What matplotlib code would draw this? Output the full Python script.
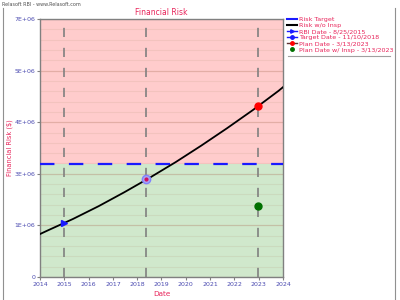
import matplotlib
matplotlib.use("Agg")
import matplotlib.pyplot as plt
import numpy as np
from matplotlib.lines import Line2D
from matplotlib.ticker import FixedLocator, MultipleLocator


def to_year(s):
    """'YYYY-MM-DD' -> decimal year"""
    y, m, d = (int(v) for v in s.split("-"))
    days = np.cumsum([0, 31, 28, 31, 30, 31, 30, 31, 31, 30, 31, 30])
    return y + (days[m - 1] + d - 1) / 365.0


# curve: risk without inspection
curve_dates = ["2014-09-20", "2015-01-01", "2016-01-01", "2017-01-01", "2018-01-01",
               "2019-01-01", "2020-01-01", "2021-01-01", "2022-01-01", "2023-01-01",
               "2024-01-01", "2024-03-07"]
curve_risk = [1.14e6, 1.23e6, 1.54e6, 1.88e6, 2.25e6, 2.64e6, 3.05e6, 3.49e6,
              3.95e6, 4.43e6, 4.94e6, 5.04e6]

risk_target = 3.0e6

rbi_date, rbi_risk = "2015-08-25", 1.43e6
target_date, target_risk = "2018-11-10", 2.59e6
plan_date, plan_risk = "2023-03-13", 4.55e6
plan_insp_risk = 1.89e6

legend_labels = ["Risk Target", "Risk w/o Insp", "RBI Date - 8/25/2015",
                 "Target Date - 11/10/2018", "Plan Date - 3/13/2023",
                 "Plan Date w/ Insp - 3/13/2023"]

X_MIN, X_MAX = to_year(curve_dates[0]), to_year(curve_dates[-1])
Y_MAX = 6.85e6
RED = "#e8245a"
TICK = "#4a4ab0"

fig = plt.figure(figsize=(4, 3), dpi=100)
ax = fig.add_axes([0.1, 0.0767, 0.6075, 0.86])

# zones
ax.axhspan(risk_target, Y_MAX, color="#ffcccc", zorder=0, lw=0)
ax.axhspan(0, risk_target, color="#d0e8cc", zorder=0, lw=0)

ax.set_xlim(X_MIN, X_MAX)
ax.set_ylim(0, Y_MAX)

yt = np.linspace(0, Y_MAX, 6)
ax.yaxis.set_major_locator(FixedLocator(yt))
ax.set_yticklabels(["0"] + ["%.0E" % v for v in yt[1:]])
ax.yaxis.set_minor_locator(MultipleLocator(Y_MAX / 25))
xt = np.linspace(X_MIN, X_MAX, 11)
ax.set_xticks(xt)
ax.set_xticklabels([str(int(np.floor(v))) for v in xt])

ax.grid(True, which="major", axis="y", color="#b07860", alpha=0.35, lw=0.9, zorder=1)
ax.grid(True, which="minor", axis="y", color="#b09070", alpha=0.15, lw=0.8, zorder=1)
ax.set_axisbelow(True)

ax.tick_params(axis="both", which="major", labelsize=4.5, labelcolor=TICK,
               length=2, color="#808080", pad=1.5)
ax.tick_params(axis="y", which="minor", length=0)
for sp in ax.spines.values():
    sp.set_color("#808080")
    sp.set_linewidth(1.0)

# event date lines
for d in [rbi_date, target_date, plan_date]:
    ax.axvline(to_year(d), color="#808080", lw=1.2, dashes=(5.5, 6.5), zorder=2)

ax.axhline(risk_target, color="#1a1aff", lw=1.6, dashes=(6.5, 6.5), zorder=3)
ax.plot([to_year(d) for d in curve_dates], curve_risk, color="black", lw=1.3, zorder=4)

ax.plot(to_year(rbi_date), rbi_risk, marker=">", ms=5, color="#1a1aff", ls="none", zorder=5)
ax.plot(to_year(target_date), target_risk, marker="o", ms=6, mfc="#a8a8f0",
        mec="#8080ff", ls="none", zorder=5)
ax.plot(to_year(target_date), target_risk, marker="o", ms=2, color="#d01060",
        ls="none", zorder=6)
ax.plot(to_year(plan_date), plan_risk, marker="o", ms=5, color="#ff0000", ls="none", zorder=5)
ax.plot(to_year(plan_date), plan_insp_risk, marker="o", ms=5, color="#007000",
        ls="none", zorder=5)

ax.set_title("Financial Risk", color=RED, fontsize=5.5, pad=3)
ax.set_xlabel("Date", color=RED, fontsize=5.2)
ax.set_ylabel("Financial Risk ($)", color=RED, fontsize=4.8)
ax.xaxis.set_label_coords(0.5, -0.055, transform=ax.transAxes)
ax.xaxis.label.set_va("top")
ax.yaxis.set_label_coords(-0.125, 0.5, transform=ax.transAxes)
ax.yaxis.label.set_va("center")

handles = [
    Line2D([], [], color="#1a1aff", lw=1.5),
    Line2D([], [], color="black", lw=1.5),
    Line2D([], [], color="#1a1aff", lw=1, marker=">", ms=2.5),
    Line2D([], [], color="#1a1aff", lw=1, marker="o", ms=2.5),
    Line2D([], [], color="#603030", lw=1, marker="o", ms=2.5, mfc="#ff0000", mec="#ff0000"),
    Line2D([], [], color="#007000", lw=0, marker="o", ms=2.5),
]
fig.legend(handles, legend_labels, loc="upper left", bbox_to_anchor=(0.71, 0.955),
           frameon=False, fontsize=4.6, labelcolor=RED, handlelength=1.6,
           handletextpad=0.3, labelspacing=0.1, borderpad=0)

# frame and separator lines
fig.add_artist(Line2D([0.72, 0.975], [0.815, 0.815], color="#a0a0a0", lw=0.8))
fig.add_artist(Line2D([0.007, 0.007], [0, 0.975], color="#909090", lw=0.8))
fig.add_artist(Line2D([0.988, 0.988], [0, 0.975], color="#909090", lw=0.8))
fig.text(0.005, 0.995, "Relasoft RBI - www.Relasoft.com", fontsize=3.5,
         color="#505050", va="top", ha="left")

fig.savefig("out.png", dpi=100)
